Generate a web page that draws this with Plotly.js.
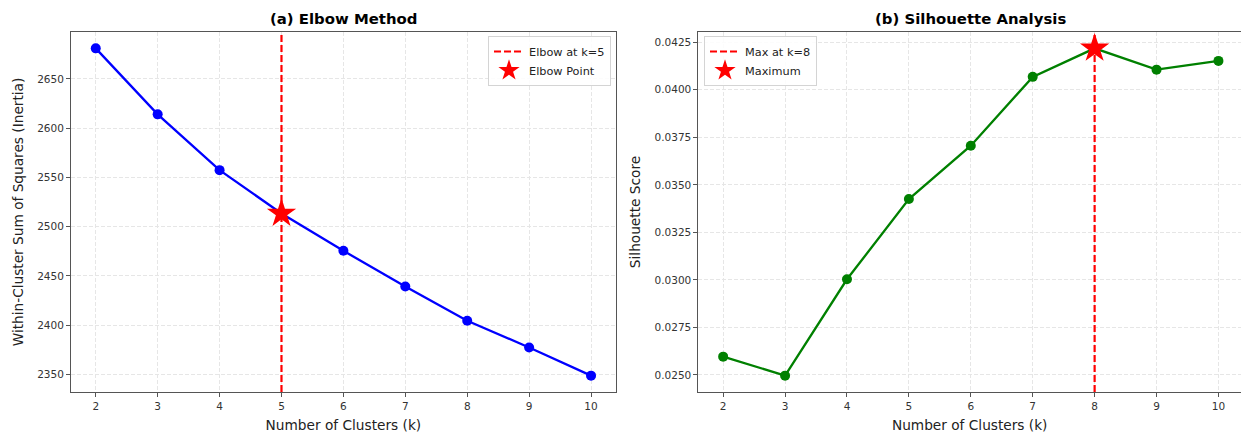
<!DOCTYPE html>
<html>
<head>
<meta charset="utf-8">
<script src="https://cdn.plot.ly/plotly-3.0.1.min.js"></script>
<style>html,body{margin:0;padding:0;background:#fff;}#chart{width:1241px;height:434px;}</style>
</head>
<body>
<div id="chart"></div>
<script>
const kValues = [2, 3, 4, 5, 6, 7, 8, 9, 10];
const inertia = [2681, 2614, 2557.4, 2513.4, 2475.5, 2439.3, 2404.5, 2377.4, 2348.8];
const silhouette = [0.02596, 0.02496, 0.03003, 0.03425, 0.03706, 0.04068, 0.04218, 0.04106, 0.04152];
const elbowK = 5;
const maxK = 8;
const xTicks = [2, 3, 4, 5, 6, 7, 8, 9, 10];

function padRange(arr) {
  const lo = Math.min(...arr), hi = Math.max(...arr), p = (hi - lo) * 0.05;
  return [lo - p, hi + p];
}
const yr1 = padRange(inertia);
const yr2 = padRange(silhouette);
const xr = padRange(kValues);

const elbowY = inertia[kValues.indexOf(elbowK)];
const maxY = silhouette[kValues.indexOf(maxK)];

const FONT = 'DejaVu Sans, sans-serif';
const W = 1241, H = 434;

// right panel is cropped at the figure edge in the original: keep the same px/unit scale
const x2Left = 698.4, pxPerUnit = (615.8 - 71) / (xr[1] - xr[0]);
const xr2 = [xr[0], xr[0] + (W - x2Left) / pxPerUnit];

const traces = [
  {x: kValues, y: inertia, mode: 'lines+markers', xaxis: 'x', yaxis: 'y',
   line: {color: '#0000ff', width: 2.3}, marker: {color: '#0000ff', size: 10}, showlegend: false},
  {x: [elbowK, elbowK], y: yr1, mode: 'lines', xaxis: 'x', yaxis: 'y', name: 'Elbow at k=' + elbowK,
   line: {color: '#ff0000', width: 2.2, dash: '7px,3px'}, legend: 'legend'},
  {x: [elbowK], y: [elbowY], mode: 'markers', xaxis: 'x', yaxis: 'y', name: 'Elbow Point',
   marker: {color: '#ff0000', size: 22, symbol: 'star'}, legend: 'legend'},
  {x: kValues, y: silhouette, mode: 'lines+markers', xaxis: 'x2', yaxis: 'y2',
   line: {color: '#008000', width: 2.3}, marker: {color: '#008000', size: 10}, showlegend: false},
  {x: [maxK, maxK], y: yr2, mode: 'lines', xaxis: 'x2', yaxis: 'y2', name: 'Max at k=' + maxK,
   line: {color: '#ff0000', width: 2.2, dash: '7px,3px'}, legend: 'legend2'},
  {x: [maxK], y: [maxY], mode: 'markers', xaxis: 'x2', yaxis: 'y2', name: 'Maximum',
   marker: {color: '#ff0000', size: 22, symbol: 'star'}, legend: 'legend2'}
];

const GRID = '#e6e6e6';
function xaxisCfg(domain, anchor, range) {
  return {domain: domain, anchor: anchor, range: range, tickvals: xTicks, ticktext: xTicks.map(String),
    showgrid: true, gridcolor: GRID, griddash: '4px,2px', gridwidth: 1,
    showline: true, linecolor: '#555', linewidth: 1, mirror: true, zeroline: false,
    ticks: 'outside', ticklen: 4, tickcolor: '#555', tickfont: {family: FONT, size: 10.5, color: '#333'},
    title: {text: 'Number of Clusters (k)', font: {family: FONT, size: 13.7, color: '#222'}, standoff: 9}};
}
function yaxisCfg(domain, anchor, range, title, extra) {
  return Object.assign({domain: domain, anchor: anchor, range: range,
    showgrid: true, gridcolor: GRID, griddash: '4px,2px', gridwidth: 1,
    showline: true, linecolor: '#555', linewidth: 1, mirror: true, zeroline: false,
    ticks: 'outside', ticklen: 4, tickcolor: '#555', tickfont: {family: FONT, size: 10.5, color: '#333'},
    title: {text: title, font: {family: FONT, size: 13.7, color: '#222'}, standoff: 10}}, extra);
}

const yDom = [(H - 392) / H, (H - 32) / H];
const legendBase = {bgcolor: 'rgba(255,255,255,0.85)', bordercolor: '#d4d4d4', borderwidth: 1,
  font: {family: FONT, size: 11.3, color: '#222'}, itemwidth: 30, tracegroupgap: 0, yanchor: 'top'};
const layout = {
  width: W, height: H,
  margin: {l: 0, r: 0, t: 0, b: 0},
  paper_bgcolor: '#fff', plot_bgcolor: '#fff',
  font: {family: FONT, color: '#222'},
  xaxis: xaxisCfg([71 / W, 615.8 / W], 'y', xr),
  yaxis: yaxisCfg(yDom, 'x', yr1, 'Within-Cluster Sum of Squares (Inertia)', {tickvals: [2350, 2400, 2450, 2500, 2550, 2600, 2650]}),
  xaxis2: xaxisCfg([x2Left / W, 1], 'y2', xr2),
  yaxis2: yaxisCfg(yDom, 'x2', yr2, 'Silhouette Score', {tick0: 0.025, dtick: 0.0025, tickformat: '.4f'}),
  legend: Object.assign({}, legendBase, {x: 611 / W, y: (H - 36) / H, xanchor: 'right'}),
  legend2: Object.assign({}, legendBase, {x: 704 / W, y: (H - 36) / H, xanchor: 'left'}),
  annotations: [
    {text: '<b>(a) Elbow Method</b>', xref: 'paper', yref: 'paper', x: (71 + 615.8) / 2 / W, y: (H - 19) / H,
     xanchor: 'center', yanchor: 'middle', showarrow: false, font: {family: FONT, size: 14.9, color: '#000'}},
    {text: '<b>(b) Silhouette Analysis</b>', xref: 'paper', yref: 'paper', x: (698.4 + 1242.8) / 2 / W, y: (H - 19) / H,
     xanchor: 'center', yanchor: 'middle', showarrow: false, font: {family: FONT, size: 14.9, color: '#000'}}
  ]
};

Plotly.newPlot('chart', traces, layout, {displayModeBar: false, staticPlot: true});
</script>
</body>
</html>
